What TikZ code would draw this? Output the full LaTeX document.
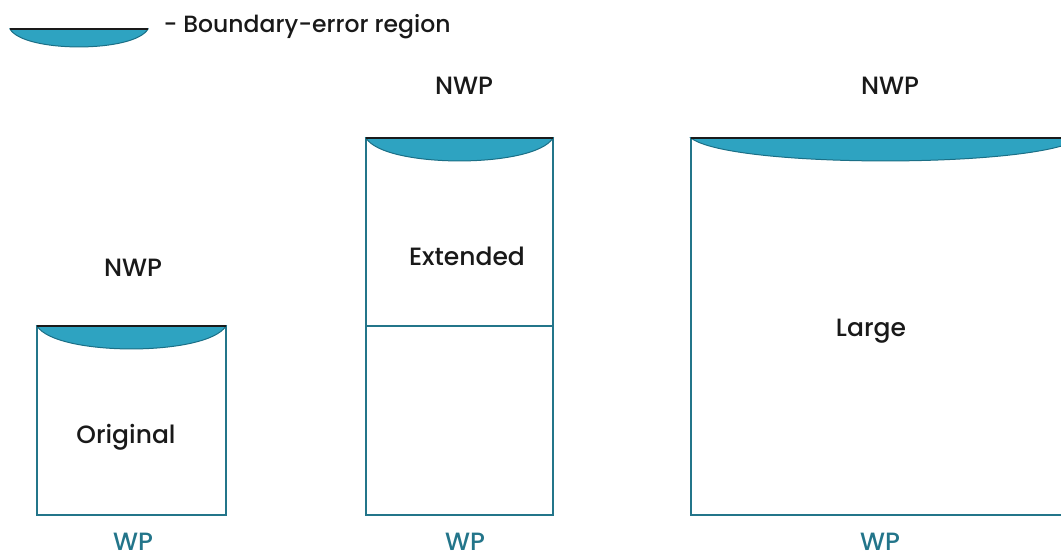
\documentclass[tikz,border=0pt]{standalone}
\usepackage{fontspec}
\setmainfont{Poppins}[UprightFont={* Medium}]
\usetikzlibrary{calc}
\definecolor{boxteal}{HTML}{23758A}
\definecolor{lensblue}{HTML}{2EA3C1}
\definecolor{lensedge}{HTML}{1B6F86}
\definecolor{topline}{HTML}{1A1A1A}
% a boundary-error lens hanging under a straight top edge: \lens(left,right,height)(depth)
\def\lens(#1,#2,#3)(#4){\draw[lensedge, fill=lensblue, line width=1pt] (#1,#3) .. controls ($(#1,#3)+({0.1*(#2-#1)},{-1.33*#4})$) and ($(#2,#3)+({-0.1*(#2-#1)},{-1.33*#4})$) .. (#2,#3) -- cycle;
	\draw[topline, line width=2pt] (#1,#3) -- (#2,#3);}

\begin{document}
\begin{tikzpicture}[x=1pt, y=1pt,
		domainbox/.style={draw=boxteal, line width=2.4pt},
		lbl/.style={anchor=base, font=\fontsize{25}{28}\selectfont, text=black!90},
		wplbl/.style={anchor=base, inner sep=1pt, font=\fontsize{25}{28}\selectfont, text=boxteal}]
			% the page is as large as the figure, the large domain runs off its right side
			\useasboundingbox (0, 0) rectangle (1061, 555);
			\clip (0, 0) rectangle (1061, 555);

			% The legend: one lens with its meaning written beside it
			\lens(10, 148, 526)(18)
			\node[lbl, anchor=base west, font=\fontsize{23.5}{26}\selectfont] (legendtxt) at (160, 522) {- Boundary-error region};

			% The original domain, a small square with the lens under its top edge
			\draw[domainbox] (37, 229) rectangle (226, 40);
			\lens(37, 226, 229)(23)
			\node[lbl] (nwporig) at (133, 278) {NWP};
			\node[lbl] (orig) at (126, 112) {Original};
			\node[wplbl] (wporig) at (133, 5) {WP};

			% The extended domain: the original square with a second one stacked on top of it
			\draw[domainbox] (366, 417) rectangle (553, 40);
			\draw[domainbox] (366, 229) -- (553, 229);
			\lens(366, 553, 417)(23)
			\node[lbl] (nwpext) at (464, 460) {NWP};
			\node[lbl] (ext) at (467, 289) {Extended};
			\node[wplbl] (wpext) at (465, 5) {WP};

			% The large domain, twice as wide, so the lens is flatter
			\draw[domainbox] (691, 417) rectangle (1080, 40);
			\lens(691, 1080, 417)(23)
			\node[lbl] (nwplarge) at (890, 460) {NWP};
			\node[lbl] (large) at (871, 218) {Large};
			\node[wplbl] (wplarge) at (880, 5) {WP};
	\end{tikzpicture}
\end{document}
